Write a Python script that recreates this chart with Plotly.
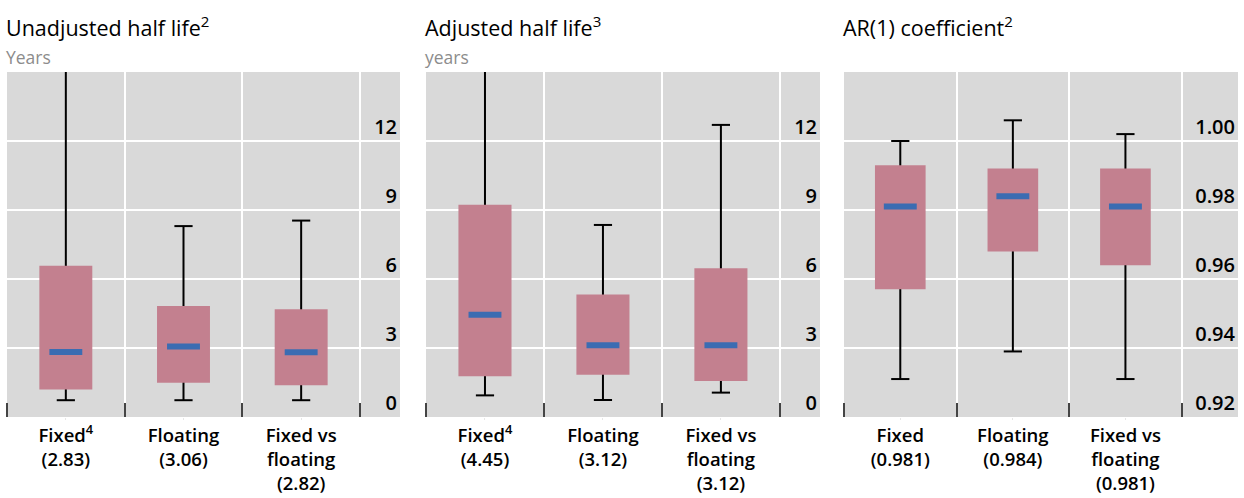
import plotly.graph_objects as go

# ---------------- data ----------------
cats_unadj = ["Fixed<sup>4</sup><br>(2.83)", "Floating<br>(3.06)", "Fixed vs<br>floating<br>(2.82)"]
cats_adj = ["Fixed<sup>4</sup><br>(4.45)", "Floating<br>(3.12)", "Fixed vs<br>floating<br>(3.12)"]
cats_ar = ["Fixed<br>(0.981)", "Floating<br>(0.984)", "Fixed vs<br>floating<br>(0.981)"]

unadj_lower = [0.73, 0.73, 0.73]
unadj_q1 = [1.20, 1.49, 1.38]
unadj_median = [2.83, 3.06, 2.82]
unadj_q3 = [6.58, 4.83, 4.68]
unadj_upper = [17.0, 8.30, 8.54]

adj_lower = [0.94, 0.74, 1.06]
adj_q1 = [1.77, 1.84, 1.57]
adj_median = [4.45, 3.12, 3.12]
adj_q3 = [9.23, 5.33, 6.47]
adj_upper = [17.0, 8.35, 12.70]

ar_lower = [0.931, 0.939, 0.931]
ar_q1 = [0.957, 0.968, 0.964]
ar_median = [0.981, 0.984, 0.981]
ar_q3 = [0.993, 0.992, 0.992]
ar_upper = [1.000, 1.006, 1.002]

titles = ["Unadjusted half life<sup>2</sup>", "Adjusted half life<sup>3</sup>", "AR(1) coefficient<sup>2</sup>"]
units = ["Years", "years", ""]
yticks_hl = [0, 3, 6, 9, 12]
yticks_ar = [0.92, 0.94, 0.96, 0.98, 1.00]

# ---------------- style ----------------
BOX = "#c3808f"
MED = "#3b6cb2"
BG = "#d9d9d9"
FONT = "Open Sans"
W, H = 1244, 498

panels = [
    dict(cats=cats_unadj, lo=unadj_lower, q1=unadj_q1, med=unadj_median, q3=unadj_q3, hi=unadj_upper,
         px=(7, 400), xr=[-0.5, 2.84], yr=[0, 15], yt=yticks_hl, fmt=""),
    dict(cats=cats_adj, lo=adj_lower, q1=adj_q1, med=adj_median, q3=adj_q3, hi=adj_upper,
         px=(426, 820), xr=[-0.5, 2.84], yr=[0, 15], yt=yticks_hl, fmt=""),
    dict(cats=cats_ar, lo=ar_lower, q1=ar_q1, med=ar_median, q3=ar_q3, hi=ar_upper,
         px=(844, 1238), xr=[-0.5, 3.0], yr=[0.92, 1.02], yt=yticks_ar, fmt=".2f"),
]

y_top_px, y_bot_px = 72, 417
ydom = [1 - y_bot_px / H, 1 - y_top_px / H]
half = 0.225

fig = go.Figure()
layout = {}
for k, p in enumerate(panels):
    n = "" if k == 0 else str(k + 1)
    xa, ya = "x" + n, "y" + n
    pos = list(range(len(p["cats"])))

    # whiskers
    wx, wy = [], []
    for i in pos:
        wx += [i, i, None]
        wy += [p["lo"][i], p["hi"][i], None]
    fig.add_trace(go.Scatter(x=wx, y=wy, mode="lines", line=dict(color="black", width=2),
                             xaxis=xa, yaxis=ya, showlegend=False, hoverinfo="skip"))
    # caps
    fig.add_trace(go.Scatter(x=pos + pos, y=p["lo"] + p["hi"], mode="markers",
                             marker=dict(symbol="line-ew", size=13, line=dict(color="black", width=2)),
                             xaxis=xa, yaxis=ya, showlegend=False, hoverinfo="skip"))
    # boxes
    for i in pos:
        fig.add_trace(go.Scatter(
            x=[i - half, i + half, i + half, i - half, i - half],
            y=[p["q1"][i], p["q1"][i], p["q3"][i], p["q3"][i], p["q1"][i]],
            mode="lines", fill="toself", fillcolor=BOX, line=dict(width=0, color=BOX),
            xaxis=xa, yaxis=ya, showlegend=False, hoverinfo="skip"))
    # medians
    fig.add_trace(go.Scatter(x=pos, y=p["med"], mode="markers",
                             marker=dict(symbol="line-ew", size=23.5, line=dict(color=MED, width=6)),
                             xaxis=xa, yaxis=ya, showlegend=False, hoverinfo="skip"))

    x0, x1 = p["px"]
    layout["xaxis" + n] = dict(
        domain=[x0 / W, x1 / W], range=p["xr"], anchor=ya, automargin=False,
        tickvals=pos, ticktext=p["cats"], ticks="outside", ticklen=2, tickcolor="#e6e6e6",
        showgrid=False, zeroline=False, showline=False, fixedrange=True,
        tickfont=dict(family=FONT, size=18.5, color="black", weight=600),
        minor=dict(tickvals=[-0.5, 0.5, 1.5, 2.5], showgrid=True, gridcolor="white", gridwidth=1.5,
                   ticks="inside", ticklen=14, tickcolor="#444", tickwidth=1.5),
    )
    layout["yaxis" + n] = dict(
        domain=ydom, range=p["yr"], anchor=xa, side="right", automargin=False,
        tickvals=p["yt"], tickformat=p["fmt"], ticklabelposition="inside top",
        ticks="", showgrid=True, gridcolor="white", gridwidth=1.5, zeroline=False,
        showline=False, fixedrange=True,
        tickfont=dict(family=FONT, size=20, color="black", weight=600),
    )
    fig.add_annotation(text=titles[k], xref=xa + " domain", yref=ya + " domain", x=0, y=1,
                       xanchor="left", yanchor="middle", yshift=46, xshift=-3, showarrow=False,
                       font=dict(family=FONT, size=21.5, color="black"))
    if units[k]:
        fig.add_annotation(text=units[k], xref=xa + " domain", yref=ya + " domain", x=0, y=1,
                           xanchor="left", yanchor="middle", yshift=15, xshift=-3, showarrow=False,
                           font=dict(family=FONT, size=17.5, color="#8c8c8c"))

fig.update_layout(
    width=W, height=H, margin=dict(l=0, r=0, t=0, b=0, autoexpand=False),
    paper_bgcolor="white", plot_bgcolor=BG, showlegend=False,
    font=dict(family=FONT),
    **layout,
)

fig.write_html("out.html")
